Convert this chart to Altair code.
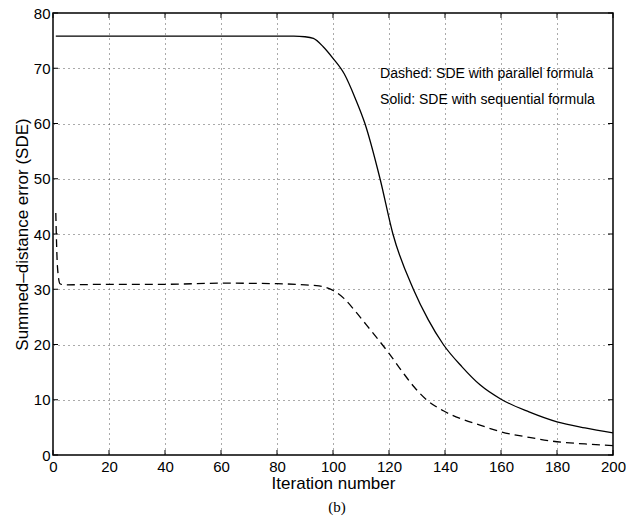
import altair as alt
import pandas as pd

# ---- data ----
solid_x = [1, 20, 40, 60, 80, 86, 90, 93, 96.5, 100, 104, 108, 111.4, 116.8, 121.4, 128.7, 134, 139.4, 146, 152.5, 160, 170, 180, 190, 200]
solid_y = [75.8, 75.8, 75.8, 75.8, 75.8, 75.8, 75.7, 75.4, 73.9, 71.8, 69.0, 64.5, 60.0, 50.0, 40.0, 30.0, 24.5, 20.0, 16.0, 12.7, 10.1, 7.8, 6.0, 4.9, 4.0]

dashed_x = [1, 1.6, 2.5, 4, 20, 40, 60, 80, 90, 95, 100, 104, 108, 112, 116, 120, 125, 129, 133.4, 139.4, 146, 152.5, 160, 170, 180, 190, 200]
dashed_y = [43.8, 34.0, 31.0, 30.8, 30.9, 30.9, 31.1, 31.0, 30.8, 30.6, 29.8, 28.3, 26.0, 23.5, 21.0, 18.4, 14.9, 12.3, 10.0, 8.0, 6.5, 5.4, 4.2, 3.2, 2.4, 2.0, 1.7]

x_ticks = [0, 20, 40, 60, 80, 100, 120, 140, 160, 180, 200]
y_ticks = [0, 10, 20, 30, 40, 50, 60, 70, 80]

note_text = ["Dashed: SDE with parallel formula", "Solid: SDE with sequential formula"]
note_x = [116.8, 116.8]
note_y = [69.0, 64.3]

caption = ["(b)"]

W, H = 560, 442
FONT = "Liberation Sans"

solid = pd.DataFrame({"x": solid_x, "y": solid_y})
dashed = pd.DataFrame({"x": dashed_x, "y": dashed_y})
xt = pd.DataFrame({"x": x_ticks})
yt = pd.DataFrame({"y": y_ticks})
notes = pd.DataFrame({"txt": note_text, "x": note_x, "y": note_y})
cap = pd.DataFrame({"txt": caption})

xscale = alt.Scale(domain=[0, 200], nice=False, zero=False)
yscale = alt.Scale(domain=[0, 80], nice=False, zero=False)

xaxis = alt.Axis(values=x_ticks, title="Iteration number", grid=True, ticks=False,
                 labelPadding=4, titlePadding=1, domain=False, labelFlush=False)
yaxis = alt.Axis(values=y_ticks, title="Summed–distance error (SDE)", grid=True, ticks=False,
                 labelPadding=3, titlePadding=2, domain=False, labelFlush=False)

X = alt.X("x:Q", scale=xscale, axis=xaxis)
Y = alt.Y("y:Q", scale=yscale, axis=yaxis)

solid_layer = alt.Chart(solid).mark_line(color="black", strokeWidth=1.3, interpolate="monotone").encode(x=X, y=Y)

dashed_layer = alt.Chart(dashed).mark_line(color="black", strokeWidth=1.3, strokeDash=[8, 5],
                                           interpolate="monotone").encode(x=X, y=Y)

notes_layer = alt.Chart(notes).mark_text(align="left", baseline="middle", font=FONT,
                                         fontSize=14, color="black").encode(
    x=X, y=Y, text="txt:N",
)

tb = alt.Chart(xt).mark_rule(color="black", strokeWidth=1).encode(
    x=X, y=alt.value(H), y2=alt.value(H - 5))
tt = alt.Chart(xt).mark_rule(color="black", strokeWidth=1).encode(
    x=X, y=alt.value(0), y2=alt.value(5))
tl = alt.Chart(yt).mark_rule(color="black", strokeWidth=1).encode(
    y=Y, x=alt.value(0), x2=alt.value(5))
tr = alt.Chart(yt).mark_rule(color="black", strokeWidth=1).encode(
    y=Y, x=alt.value(W), x2=alt.value(W - 5))

cap_layer = alt.Chart(cap).mark_text(font="Liberation Serif", fontSize=15, color="black",
                                     align="center", baseline="middle").encode(
    x=alt.value(W / 2 + 4), y=alt.value(H + 52), text="txt:N")

chart = alt.layer(solid_layer, dashed_layer, notes_layer, tb, tt, tl, tr, cap_layer).properties(
    width=W, height=H,
    autosize=alt.AutoSizeParams(type="none"),
    padding={"left": 53, "top": 13, "right": 13, "bottom": 68},
).configure(
    background="white"
).configure_view(
    stroke="black", strokeWidth=1.5
).configure_axis(
    labelFont=FONT, labelFontSize=15, labelColor="black",
    titleFont=FONT, titleFontSize=17, titleFontWeight="normal", titleColor="black",
    gridColor="#444", gridDash=[1, 4], gridWidth=1, gridOpacity=0.9,
)

chart.save("out.html", embed_options={"renderer": "svg", "actions": False})
